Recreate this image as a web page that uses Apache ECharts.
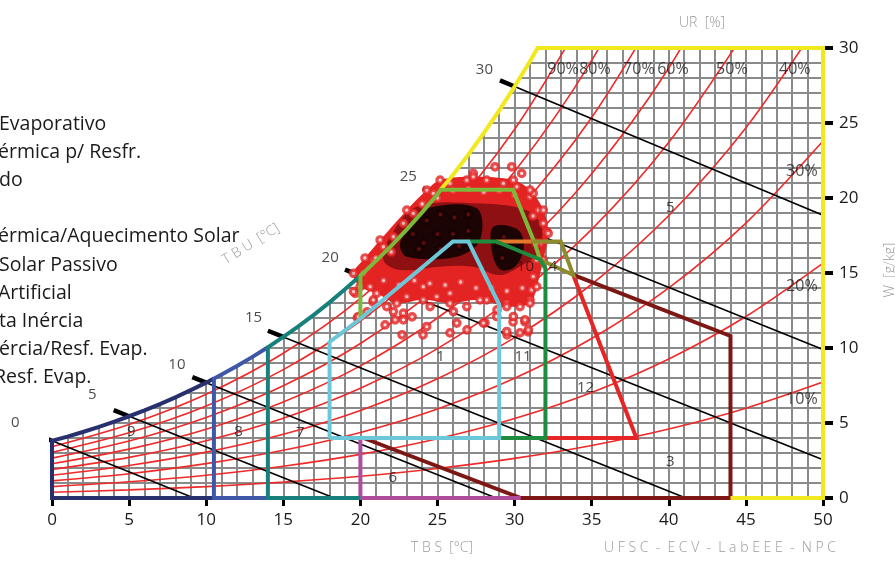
<!DOCTYPE html>
<html><head><meta charset="utf-8">
<script src="https://cdn.jsdelivr.net/npm/echarts@6/dist/echarts.min.js"></script>
<style>html,body{margin:0;padding:0;background:#fff;overflow:hidden}#c{width:895px;height:562px}</style>
</head><body><div id="c"></div>
<script>
// ---------- DATA ----------
// saturation humidity ratio (g/kg) at each integer dry-bulb temperature
const satT = [0,1,2,3,4,5,6,7,8,9,10,11,12,13,14,15,16,17,18,19,20,21,22,23,24,25,26,27,28,29,30,31];
const satW = [3.81,4.09,4.40,4.73,5.08,5.45,5.84,6.26,6.71,7.19,7.69,8.23,8.80,9.41,10.05,10.74,11.46,12.23,13.04,13.91,14.82,15.79,16.81,17.89,19.04,20.25,21.53,22.89,24.32,25.83,27.43,29.12];
const satTop = [31.49, 30];

// relative humidity curves, humidity ratio at these temperatures
const rhT = [0,5,10,15,20,25,30,35,40,45,50];
const rh10 = [0.38,0.54,0.76,1.06,1.45,1.97,2.64,3.50,4.60,5.99,7.73];
const rh20 = [0.76,1.08,1.52,2.12,2.91,3.95,5.30,7.04,9.27,12.10,15.66];
const rh30 = [1.14,1.62,2.29,3.18,4.37,5.94,7.98,10.63,14.01,18.33,23.80];
const rh40 = [1.52,2.17,3.06,4.25,5.84,7.95,10.69,14.25,18.83,24.68,32.14];
const rh50 = [1.90,2.71,3.82,5.32,7.32,9.96,13.42,17.91,23.71,31.16];
const rh60 = [2.28,3.26,4.59,6.40,8.81,12.00,16.18,21.62,28.67,37.77];
const rh70 = [2.66,3.80,5.37,7.48,10.30,14.04,18.95,25.37,33.71];
const rh80 = [3.04,4.35,6.14,8.56,11.80,16.10,21.76,29.17,38.83];
const rh90 = [3.42,4.90,6.92,9.65,13.31,18.17,24.58,33.00];
const rhLabels = ['90%','80%','70%','60%','50%','40%','30%','20%','10%'];
const rhLabelAt = [[33.14,28.56],[35.21,28.56],[38.06,28.56],[40.27,28.56],[44.09,28.56],[48.17,28.56],[48.63,21.74],[48.63,14.09],[48.63,6.55]];

// wet-bulb lines: start on saturation, end, stub outer point, label
const wbValues = [0,5,10,15,20,25,30];
const wbStart = [[0,3.81],[5,5.45],[10,7.69],[15,10.74],[20,14.82],[25,20.25],[30,27.43]];
const wbEnd = [[9.2,0],[18.3,0],[28.8,0],[41.1,0],[50,2.55],[50,9.9],[50,18.85]];
const wbStub = [[-0.9,4.18],[4.0,5.86],[9.1,8.06],[14.0,11.15],[19.0,15.23],[24.05,20.64],[29.05,27.84]];
const wbLabelAt = [[-2.38,5.04],[2.61,6.89],[8.10,8.88],[13.07,11.99],[18.04,16.0],[23.11,21.41],[28.04,28.56]];

// bioclimatic zones (vertices in degC, g/kg)
function satRange(a, b) { const r = []; satT.forEach((t, i) => { if (t >= a && t <= b) r.push([t, satW[i]]); }); return r; }
const zonePaths = [
  [[33.8,14.87],[44,10.8],[44,0],[30.4,0],[20.2,4]],                       // 3
  [[20,4],[20,0],[30.4,0]],                                                // 6
  [[10.5,0],[0,0]].concat(satRange(0,10), [[10.5,7.96]]),                  // 9
  [[14,0],[10.5,0],[10.5,7.96]].concat(satRange(11,14)),                   // 8
  [[20,0],[14,0]].concat(satRange(14,20)),                                 // 7
  [[25.2,20.55]].concat(satRange(26,31), [satTop,[50,30],[50,0],[44,0]]),  // 5
  [[20,11.95]].concat(satRange(20,25), [[25.2,20.55],[29.9,20.55],[31.3,17.0],[31.65,15.9],[32,15.3]]), // 2
  [[32,4],[37.9,4],[33.8,14.87]],                                          // 12
  [[31.65,15.9],[33.8,14.87],[33.0,17.1],[31.1,17.1]],                     // 4
  [[28.8,17.1],[31.1,17.1]],                                               // 10
  [[27,17.1],[28.8,17.1],[31.65,15.9],[32,15.3],[32,4],[29,4]],            // 11
  [[18,4],[18,10.4],[20,11.95],[24.5,15.8],[26,17.1],[27,17.1],[29,12.9],[29,4],[18,4]] // 1
];
const zoneLabels = ['1','11','10','4','12','3','5','6','7','8','9'];
const zoneLabelAt = [[25.2,9.4],[30.55,9.4],[30.7,15.4],[32.5,15.4],[34.6,7.35],[40.1,2.43],[40.1,19.33],[22.1,1.37],[16.1,4.36],[12.1,4.43],[5.14,4.43]];

// hourly climate data: dense cloud layers and individually visible hours
const cloudOuter = [[19.55,14.98],[20.30,16.0],[21.28,17.2],[23.01,19.19],[24.30,20.53],[25.17,21.19],[27.32,21.41],[29.92,21.19],[31.0,20.53],[31.86,19.19],[32.18,17.64],[31.86,15.87],[31.43,14.09],[31.0,12.99],[29.49,12.76],[27.76,13.21],[25.81,12.99],[24.08,13.21],[22.36,12.99],[21.06,13.65],[19.98,14.09]];
const cloudMid = [[21.49,15.87],[21.93,17.42],[23.65,19.41],[27.76,19.64],[30.78,19.19],[31.76,18.08],[31.5,16.3],[30.6,15.6],[29.05,14.86],[27.32,15.42],[25.17,15.42],[22.57,15.2]];
const cloudCoreA = [[22.57,16.98],[23.43,18.31],[24.30,19.31],[27.54,19.31],[27.76,17.2],[26.25,16.09],[23.01,16.09]];
const cloudCoreB = [[28.62,18.08],[30.2,17.9],[30.6,16.7],[30.0,15.4],[29.05,15.25],[28.52,16.53]];
const hourlyPoints = [
[19.80,12.01],[20.43,12.41],[20.82,13.07],[21.60,11.54],[22.25,11.88],[22.70,10.88],[23.35,12.08],[24.06,10.88],[25.81,11.01],[26.91,11.21],[28.08,11.68],[29.51,10.88],[30.35,11.01],[30.87,11.08],[29.90,11.74],[30.67,11.74],[28.86,12.54],
[19.67,13.65],[19.87,12.10],[20.63,14.09],[20.84,13.21],[21.71,12.76],[22.14,12.43],[22.79,12.32],[23.01,13.43],[24.08,14.09],[24.52,12.76],[24.95,13.43],[25.81,13.65],[26.03,12.43],[26.90,12.76],[26.25,11.66],[27.97,11.66],[28.19,13.21],[28.84,12.10],[29.49,12.99],[29.92,12.10],[30.35,12.76],[30.67,11.88],[31.00,13.21],[30.89,11.21],[29.49,11.10],[24.30,11.43],[22.79,11.88],
[19.55,13.76],[20.19,14.98],[20.84,15.87],[21.49,16.75],[22.14,17.42],[22.79,18.31],[23.43,18.98],[24.08,19.64],[24.73,20.31],
[25.81,20.97],[26.90,21.19],[27.32,21.64],[28.19,21.19],[28.73,22.08],[29.81,22.08],[30.46,21.64],[29.27,20.97],[30.14,20.75],[31.00,20.08],[31.21,20.31],[31.54,19.19],[31.86,18.31],[32.08,17.75],[31.65,16.98],[31.43,15.87],[31.21,14.76],[31.11,13.87],
[21.5,14.5],[22.5,14.2],[23.5,14.5],[24.5,14.3],[25.5,14.2],[26.5,14.4],[27.5,14.0],[28.5,14.0],[29.5,13.8],[30.5,14.0],
[26.0,20.5],[27.0,20.6],[28.0,20.4],[29.0,20.5],[30.0,20.2],[31.2,18.8],[31.4,17.0],[25.0,20.0],[24.0,19.6],[21.0,16.0],[22.0,16.4]
];
const denseHours = [[23.4,17.6],[24.3,18.5],[25.2,18.9],[26.1,18.7],[27.0,18.9],[24.1,17.0],[25.0,17.6],[26.0,17.6],[27.0,17.8],[23.8,16.6],[25.2,16.6],[26.4,16.8],[29.3,17.4],[29.9,16.7],[29.2,16.0],[28.9,17.0]];

const legendLines = ['Evaporativo','érmica p/ Resfr.','do','','érmica/Aquecimento Solar','Solar Passivo','Artificial','ta Inércia','ércia/Resf. Evap.','Resf. Evap.'];

// ---------- STYLE / LAYOUT ----------
const FONT = "'Open Sans','Noto Sans',sans-serif";
const GRID = '#8a8a8a';
const zoneColors = ['#7d1714','#b04c9c','#29306e','#3e57a6','#17807b','#f2e81e','#7cb83a','#e62626','#8d8b2c','#e37a2a','#1e8b3f','#6cc7d9'];
const cloudColors = ['#e42323','#8e1012','#1c0404','#1c0404'];
const legendX = [-1,-2,-1,0,-2,-1,-2,-1,-1,-6];
const legendY0 = 124, legendStep = 28.2;

const series = [];
// white mask above the saturation curve (hides the grid there)
series.push({type:'custom', coordinateSystem:'cartesian2d', data:[[0,0]], z:1, silent:true, clip:false,
  renderItem: (p, api) => {
    const pts = [[-0.4, satW[0]]].concat(satRange(0,31), [satTop]).map(q => api.coord(q));
    const topY = api.coord([0,30])[1] - 3;
    pts.push([pts[pts.length-1][0], topY]);
    pts.push([api.coord([-0.4,30])[0], topY]);
    return {type:'polygon', shape:{points:pts}, style:{fill:'#fff'}};
  }});
// saturation (100%) curve
series.push({type:'line', data: satRange(0,31).concat([satTop]), symbol:'none', silent:true, z:2,
  lineStyle:{color:'#ee2a2a', width:1.6}});
[rh10,rh20,rh30,rh40,rh50,rh60,rh70,rh80,rh90].forEach(arr => {
  series.push({type:'line', data: arr.map((w,i)=>[rhT[i], w]), smooth:0.3, symbol:'none', silent:true, z:2,
    lineStyle:{color:'#ee2a2a', width:1.6}});
});
wbValues.forEach((v,i) => {
  series.push({type:'line', data:[wbStart[i], wbEnd[i]], symbol:'none', silent:true, z:3, lineStyle:{color:'#000', width:1.6}});
  series.push({type:'line', data:[wbStub[i], wbStart[i]], symbol:'none', silent:true, z:3, clip:false, lineStyle:{color:'#000', width:4.5, cap:'butt'}});
});
// climate cloud
series.push({type:'custom', coordinateSystem:'cartesian2d', data:[[0,0]], z:4, silent:true,
  renderItem: (p, api) => ({type:'group', children: [cloudOuter, cloudMid, cloudCoreA, cloudCoreB].map((poly, k) => ({
    type:'polygon', shape:{points: poly.map(q => api.coord(q)), smooth:0.35}, style:{fill: cloudColors[k]}}))})});
series.push({type:'scatter', data: hourlyPoints.concat(cloudOuter), symbol:'circle', symbolSize:6.5, silent:true, z:4,
  itemStyle:{color:'#fbe3e3', borderColor:'#e42323', borderWidth:3.2}});
series.push({type:'scatter', data: denseHours, symbol:'circle', symbolSize:6.5, silent:true, z:4,
  itemStyle:{color:'#7a1010', borderColor:'#120202', borderWidth:3}});
// zones
zonePaths.forEach((path,i) => {
  series.push({type:'line', data:path, symbol:'none', silent:true, z:6, clip:false,
    lineStyle:{color: zoneColors[i], width:4, join:'miter'}});
});
// labels
function labelSeries(pos, texts, size) {
  return {type:'scatter', data: pos.map((q,i)=>[q[0], q[1], texts[i]]), symbolSize:0, silent:true, z:8, clip:false,
    label:{show:true, position:'inside', formatter: p => p.value[2], color:'#1a1a1a', fontSize:size, fontFamily:FONT}};
}
series.push(labelSeries(rhLabelAt, rhLabels, 16));
series.push(labelSeries(wbLabelAt, wbValues.map(String), 15));
series.push(labelSeries(zoneLabelAt, zoneLabels, 15));

const graphic = [];
legendLines.forEach((t,i) => {
  if (!t) return;
  graphic.push({type:'text', x: legendX[i], y: legendY0 + i*legendStep, z:100, silent:true,
    style:{text:t, fill:'#1a1a1a', font:'19.5px ' + FONT, textAlign:'left', textVerticalAlign:'middle', verticalAlign:'middle'}});
});
const faint = {fill:'#9a9a9a', font:'300 14px ' + FONT, textAlign:'center', textVerticalAlign:'middle', verticalAlign:'middle'};
graphic.push({type:'text', x:702, y:23, z:100, silent:true, style:Object.assign({text:'UR  [%]'}, faint)});
graphic.push({type:'text', x:442, y:548, z:100, silent:true, style:Object.assign({text:'T B S  [°C]'}, faint)});
graphic.push({type:'text', x:720, y:548, z:100, silent:true, style:Object.assign({text:'U F S C  -  E C V  -  L a b E E E  -  N P C'}, faint)});
graphic.push({type:'text', x:251, y:244, z:100, rotation:0.56, silent:true, style:Object.assign({text:'T B U  [°C]'}, faint)});
graphic.push({type:'text', x:890, y:270, z:100, rotation:Math.PI/2, silent:true, style:Object.assign({text:'W  [g/kg]'}, faint)});

const chart = echarts.init(document.getElementById('c'), null, {renderer:'canvas'});
chart.setOption({
  animation:false,
  backgroundColor:'#fff',
  grid:{left:52, right:72, top:48, bottom:64, containLabel:false},
  xAxis:{type:'value', min:0, max:50, interval:5,
    axisLine:{show:false, onZero:false}, axisTick:{show:true, length:8, lineStyle:{color:'#000', width:3}},
    axisLabel:{margin:14, color:'#1a1a1a', fontSize:17, fontFamily:FONT},
    splitLine:{show:true, lineStyle:{color:GRID, width:2}},
    minorTick:{show:false, splitNumber:5}, minorSplitLine:{show:true, lineStyle:{color:GRID, width:2}}},
  yAxis:{type:'value', position:'right', min:0, max:30, interval:5,
    axisLine:{show:false, onZero:false}, axisTick:{show:true, length:10, lineStyle:{color:'#000', width:4}},
    axisLabel:{margin:16, color:'#1a1a1a', fontSize:17, fontFamily:FONT},
    splitLine:{show:true, lineStyle:{color:GRID, width:2}},
    minorTick:{show:false, splitNumber:5}, minorSplitLine:{show:true, lineStyle:{color:GRID, width:2}}},
  graphic: graphic,
  series: series
});
</script></body></html>
